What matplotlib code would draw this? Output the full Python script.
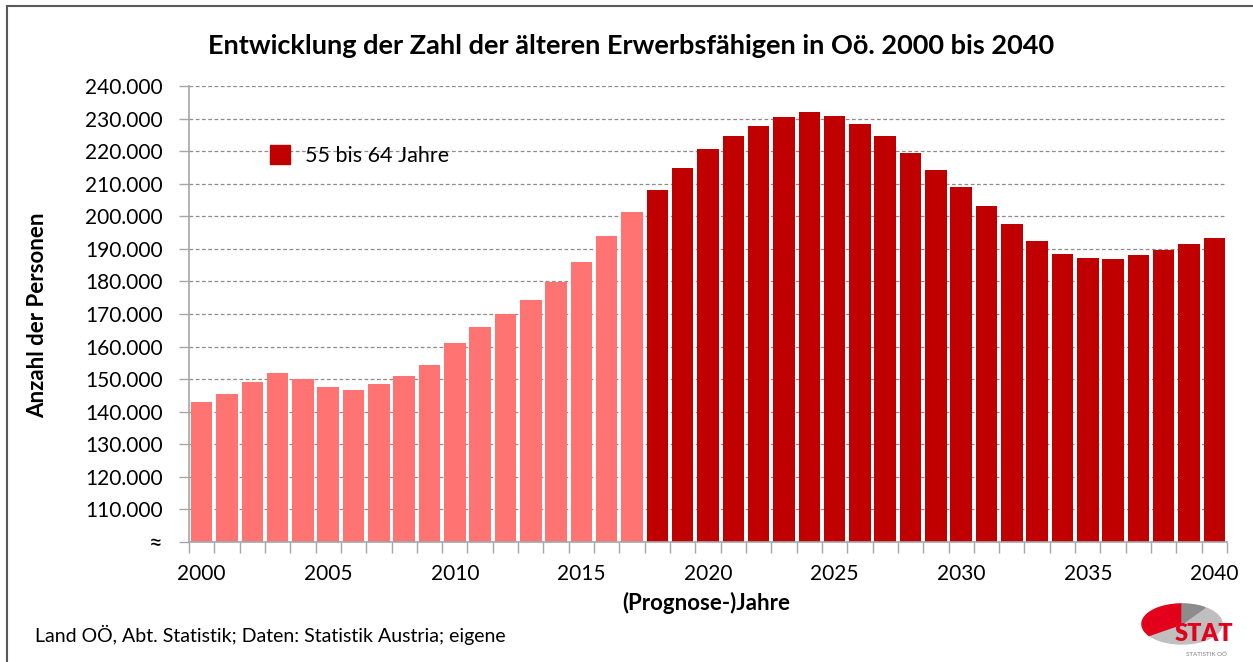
import numpy as np
import matplotlib
matplotlib.use("Agg")
import matplotlib.pyplot as plt
from matplotlib.patches import Rectangle, Ellipse, Polygon

plt.rcParams["font.family"] = ["Lato", "DejaVu Sans"]

years = list(range(2000, 2041))
values = [143.0, 145.4, 149.1, 151.9, 150.0, 147.6, 146.7, 148.5, 151.0, 154.4,
          161.1, 166.0, 170.0, 174.3, 179.8, 186.0, 194.0, 201.3,
          208.1, 214.8, 220.7, 224.7, 227.7, 230.5, 232.0, 230.8, 228.3, 224.7,
          219.4, 214.2, 209.0, 203.2, 197.6, 192.4, 188.4, 187.2, 186.9, 188.1,
          189.7, 191.5, 193.3]
values = [v * 1000 for v in values]
last_actual = 2017
ytick_vals = list(range(100000, 240001, 10000))
ytick_labels = ["≈"] + [f"{v // 1000}.000" for v in ytick_vals[1:]]
xtick_years = list(range(2000, 2041, 5))

LIGHT = "#FF7373"
DARK = "#C00000"

fig = plt.figure(figsize=(12.53, 6.62), dpi=100)
ax = fig.add_axes([189 / 1253, 1 - 542 / 662, (1227 - 189) / 1253, (542 - 86) / 662])

colors = [LIGHT if y <= last_actual else DARK for y in years]
ax.bar(years, [v - 100000 for v in values], bottom=100000, width=0.85, color=colors, zorder=2)

ax.set_xlim(years[0] - 0.5, years[-1] + 0.5)
ax.set_ylim(100000, 240000)
ax.set_yticks(ytick_vals)
ax.set_yticklabels(ytick_labels, fontsize=15)
ax.get_yticklabels()[0].set_fontsize(17)
ax.set_xticks(xtick_years)
ax.set_xticklabels([str(y) for y in xtick_years], fontsize=15)
ax.tick_params(axis="x", length=0, pad=16)
ax.set_xticks(np.arange(years[0] - 0.5, years[-1] + 1, 1), minor=True)
ax.tick_params(axis="x", which="minor", length=8, color="#A6A6A6", width=1)
ax.tick_params(axis="y", length=7, color="#A6A6A6", width=1, pad=12)

ax.yaxis.grid(True, linestyle=(0, (3, 2)), color="#8C8C8C", linewidth=0.9, zorder=0)
for s in ["top", "right"]:
    ax.spines[s].set_visible(False)
for s in ["left", "bottom"]:
    ax.spines[s].set_color("#A6A6A6")
    ax.spines[s].set_linewidth(1.2)

# legend
fig.patches.append(Rectangle((270 / 1253, 1 - 164 / 662), 20 / 1253, 19 / 662,
                             transform=fig.transFigure, color=DARK))
fig.text(305 / 1253, 1 - 156 / 662, "55 bis 64 Jahre", fontsize=15.5, va="center")

fig.text(631 / 1253, 1 - 46 / 662, "Entwicklung der Zahl der älteren Erwerbsfähigen in Oö. 2000 bis 2040",
         fontsize=19.5, fontweight="bold", ha="center", va="center")
fig.text(38 / 1253, 1 - 315 / 662, "Anzahl der Personen", fontsize=16, fontweight="bold",
         rotation=90, ha="center", va="center")
fig.text(706 / 1253, 1 - 603 / 662, "(Prognose-)Jahre", fontsize=16, fontweight="bold",
         ha="center", va="center")
fig.text(35 / 1253, 1 - 635 / 662, "Land OÖ, Abt. Statistik; Daten: Statistik Austria; eigene",
         fontsize=14, va="center")

# frame
fig.add_artist(plt.Line2D([7 / 1253, 7 / 1253], [0, 1 - 6 / 662], color="#595959", lw=1.5))
fig.add_artist(plt.Line2D([7 / 1253, 1], [1 - 6 / 662, 1 - 6 / 662], color="#595959", lw=1.5))


def sector(cx, cy, rx, ry, a0, a1):
    t = np.radians(np.linspace(a0, a1, 60))
    pts = [(cx, cy)] + list(zip(cx + rx * np.cos(t), cy + ry * np.sin(t)))
    return pts


# logo
lax = fig.add_axes([1140 / 1253, 1 - 660 / 662, 105 / 1253, 60 / 662])
lax.set_xlim(0, 105)
lax.set_ylim(0, 60)
lax.axis("off")
lax.add_patch(Ellipse((42, 36), 80, 40, color="#BFBFBF"))
lax.add_patch(Polygon(sector(42, 36, 40, 20, 90, 215), color="#E3001B"))
lax.add_patch(Polygon(sector(42, 36, 40, 20, 55, 90), color="#8C8C8C"))
lax.text(64, 26, "STAT", fontsize=17, fontweight="heavy", color="#E3001B", ha="center",
         va="center")
lax.text(66, 6, "STATISTIK OÖ", fontsize=4.5, color="#7F7F7F", ha="center", va="center")

fig.savefig("out.png", dpi=100)
